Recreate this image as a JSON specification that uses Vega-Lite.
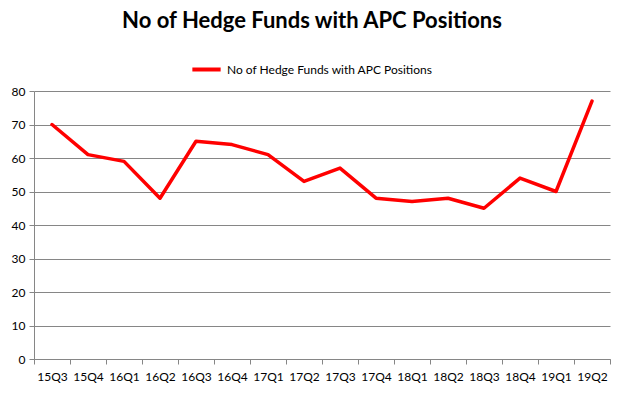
{
  "$schema": "https://vega.github.io/schema/vega-lite/v6.json",
  "autosize": "none",
  "width": 576,
  "height": 268,
  "padding": {"left": 34, "top": 91, "right": 15, "bottom": 36},
  "background": "white",
  "title": {
    "text": "No of Hedge Funds with APC Positions",
    "anchor": "middle",
    "frame": "group",
    "dx": -10,
    "offset": 20,
    "font": "Lato",
    "fontSize": 22,
    "fontWeight": "bold",
    "color": "#000000"
  },
  "data": {
    "values": [
      {"quarter": "15Q3", "funds": 70, "series": "No of Hedge Funds with APC Positions"},
      {"quarter": "15Q4", "funds": 61, "series": "No of Hedge Funds with APC Positions"},
      {"quarter": "16Q1", "funds": 59, "series": "No of Hedge Funds with APC Positions"},
      {"quarter": "16Q2", "funds": 48, "series": "No of Hedge Funds with APC Positions"},
      {"quarter": "16Q3", "funds": 65, "series": "No of Hedge Funds with APC Positions"},
      {"quarter": "16Q4", "funds": 64, "series": "No of Hedge Funds with APC Positions"},
      {"quarter": "17Q1", "funds": 61, "series": "No of Hedge Funds with APC Positions"},
      {"quarter": "17Q2", "funds": 53, "series": "No of Hedge Funds with APC Positions"},
      {"quarter": "17Q3", "funds": 57, "series": "No of Hedge Funds with APC Positions"},
      {"quarter": "17Q4", "funds": 48, "series": "No of Hedge Funds with APC Positions"},
      {"quarter": "18Q1", "funds": 47, "series": "No of Hedge Funds with APC Positions"},
      {"quarter": "18Q2", "funds": 48, "series": "No of Hedge Funds with APC Positions"},
      {"quarter": "18Q3", "funds": 45, "series": "No of Hedge Funds with APC Positions"},
      {"quarter": "18Q4", "funds": 54, "series": "No of Hedge Funds with APC Positions"},
      {"quarter": "19Q1", "funds": 50, "series": "No of Hedge Funds with APC Positions"},
      {"quarter": "19Q2", "funds": 77, "series": "No of Hedge Funds with APC Positions"}
    ]
  },
  "mark": {"type": "line", "strokeWidth": 3.5, "strokeCap": "round", "strokeJoin": "round"},
  "encoding": {
    "x": {
      "field": "quarter",
      "type": "ordinal",
      "bandPosition": 0.5,
      "scale": {"type": "band", "paddingInner": 0, "paddingOuter": 0},
      "axis": {
        "title": null,
        "labelAngle": 0,
        "tickBand": "extent",
        "grid": false,
        "domainColor": "#868686",
        "tickColor": "#868686",
        "tickSize": 5,
        "labelPadding": 7,
        "labelFont": "Lato",
        "labelFontSize": 12,
        "labelColor": "#000000"
      }
    },
    "y": {
      "field": "funds",
      "type": "quantitative",
      "scale": {"domain": [0, 80]},
      "axis": {
        "title": null,
        "values": [0, 10, 20, 30, 40, 50, 60, 70, 80],
        "grid": true,
        "gridColor": "#868686",
        "domainColor": "#868686",
        "tickColor": "#868686",
        "tickSize": 5,
        "labelPadding": 4,
        "labelFont": "Lato",
        "labelFontSize": 12,
        "labelColor": "#000000"
      }
    },
    "color": {
      "field": "series",
      "type": "nominal",
      "scale": {"range": ["#ff0000"]},
      "legend": {
        "title": null,
        "orient": "none",
        "legendX": 156,
        "legendY": -38,
        "symbolType": "stroke",
        "symbolStrokeWidth": 4,
        "symbolSize": 800,
        "labelLimit": 0,
        "labelFont": "Lato",
        "labelFontSize": 12,
        "labelColor": "#000000"
      }
    }
  },
  "config": {"view": {"stroke": null}}
}
